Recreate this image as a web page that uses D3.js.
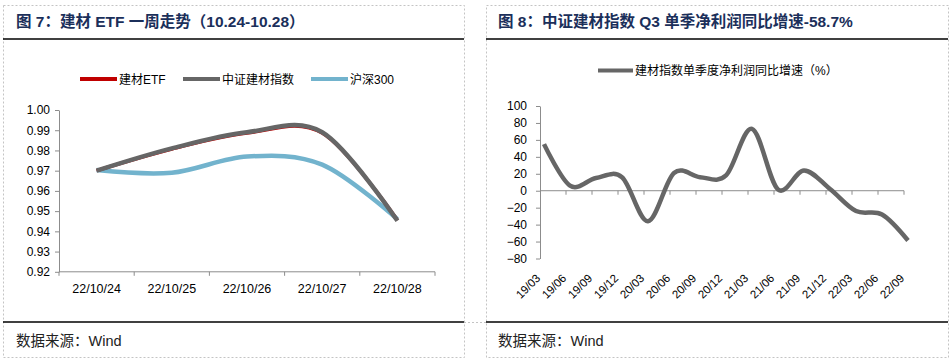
<!DOCTYPE html>
<html>
<head>
    <meta charset="UTF-8" />
    <title>建材 ETF / 中证建材指数</title>
    <script src="https://d3js.org/d3.v7.min.js"></script>
    <style>
body { margin: 0; background: #fff; }
svg { font-family: "Liberation Sans", Arial, "Noto Sans CJK SC", sans-serif; }
.axis path, .axis line { stroke: #8c8c8c; }
.axis text { fill: #000; }
    </style>
</head>

<body>
<div id="main"></div>
<script type="text/javascript">

// ---- data: chart 7 (weekly trend) ----
const weekDates = ['22/10/24', '22/10/25', '22/10/26', '22/10/27', '22/10/28']
const etfValues = [0.970, 0.9807, 0.9886, 0.9886, 0.9455]
const indexValues = [0.970, 0.981, 0.989, 0.989, 0.9452]
const hs300Values = [0.9703, 0.969, 0.977, 0.973, 0.946]
const weekTicks = [0.92, 0.93, 0.94, 0.95, 0.96, 0.97, 0.98, 0.99, 1.00]

// ---- data: chart 8 (quarterly profit growth, %) ----
const quarters = ['19/03', '19/06', '19/09', '19/12', '20/03', '20/06', '20/09', '20/12',
  '21/03', '21/06', '21/09', '21/12', '22/03', '22/06', '22/09']
const profitGrowth = [55, 6, 15, 16, -36, 21, 16, 18, 73, 1.5, 24, 2, -24, -28, -58.7]
const growthTicks = [-80, -60, -40, -20, 0, 20, 40, 60, 80, 100]

const width = 951
const height = 362
const titleColor = '#1b2f5a'
const smooth = d3.curveCardinal.tension(0)

const svg = d3.select('#main').append('svg')
  .attr('width', width)
  .attr('height', height)

// frames: dashed boxes, title rule, source rule
function frame(x0, x1, title, titleX) {
  svg.append('rect')
    .attr('x', x0 + 0.5).attr('y', 5.5)
    .attr('width', x1 - x0).attr('height', 352)
    .attr('fill', 'none').attr('stroke', '#c4c4c4')
    .attr('stroke-dasharray', '2,2')
  svg.append('line')
    .attr('x1', x0).attr('x2', x1).attr('y1', 39).attr('y2', 39)
    .attr('stroke', '#000').attr('stroke-width', 1.5)
  svg.append('line')
    .attr('x1', x0).attr('x2', x1).attr('y1', 322).attr('y2', 322)
    .attr('stroke', '#000').attr('stroke-width', 1.5)
  svg.append('text')
    .attr('x', titleX).attr('y', 27)
    .attr('fill', titleColor)
    .style('font-size', '15.5px').style('font-weight', 'bold')
    .text(title)
  svg.append('text')
    .attr('x', titleX).attr('y', 346)
    .attr('fill', '#222')
    .style('font-size', '14.5px')
    .text('数据来源：Wind')
}

frame(3, 464, '图 7：建材 ETF 一周走势（10.24-10.28）', 16)
frame(486, 948, '图 8：中证建材指数 Q3 单季净利润同比增速-58.7%', 498)

svg.append('line')
  .attr('x1', 464).attr('x2', 486).attr('y1', 322.5).attr('y2', 322.5)
  .attr('stroke', '#c4c4c4').attr('stroke-dasharray', '2,2')

// ================= chart 7 =================
const x7 = d3.scaleBand()
  .domain(weekDates)
  .range([59, 435])

const y7 = d3.scaleLinear()
  .domain([0.92, 1.00])
  .range([271.8, 110])

const g7 = svg.append('g')

g7.append('g')
  .attr('class', 'axis')
  .attr('transform', 'translate(59,0)')
  .call(d3.axisLeft(y7).tickValues(weekTicks).tickFormat(d3.format('.2f')).tickSize(4).tickSizeOuter(0))
  .call(g => g.selectAll('text').style('font-size', '12px').attr('x', -9))

// category axis with ticks on band edges
const xAxis7 = g7.append('g').attr('class', 'axis')
xAxis7.append('line')
  .attr('x1', 59).attr('x2', 435)
  .attr('y1', y7(0.92)).attr('y2', y7(0.92))
xAxis7.selectAll('.edge').data(weekDates.concat(['end'])).enter().append('line')
  .attr('class', 'edge')
  .attr('x1', (d, i) => i < weekDates.length ? x7(d) : x7.range()[1])
  .attr('x2', (d, i) => i < weekDates.length ? x7(d) : x7.range()[1])
  .attr('y1', y7(0.92)).attr('y2', y7(0.92) + 4)
xAxis7.selectAll('text').data(weekDates).enter().append('text')
  .attr('x', d => x7(d) + x7.bandwidth() / 2)
  .attr('y', 293)
  .attr('text-anchor', 'middle')
  .style('font-size', '12.5px')
  .text(d => d)

const line7 = values => d3.line()
  .x((d, i) => x7(weekDates[i]) + x7.bandwidth() / 2)
  .y(d => y7(d))
  .curve(smooth)(values)

const series7 = [
  { name: '建材ETF', values: etfValues, color: '#c00000', w: 3.5 },
  { name: '中证建材指数', values: indexValues, color: '#666666', w: 4.5 },
  { name: '沪深300', values: hs300Values, color: '#72b3cd', w: 4.5 }
]

// blue first, then red, then gray over red
;[2, 0, 1].forEach(i => {
  const s = series7[i]
  g7.append('path').attr('d', line7(s.values))
    .attr('fill', 'none').attr('stroke', s.color).attr('stroke-width', s.w)
})

// legend
const legend7X = [80, 183, 311]
series7.forEach((s, i) => {
  svg.append('line')
    .attr('x1', legend7X[i]).attr('x2', legend7X[i] + 37)
    .attr('y1', 79).attr('y2', 79)
    .attr('stroke', s.color).attr('stroke-width', 4)
  svg.append('text')
    .attr('x', legend7X[i] + 39).attr('y', 83.5)
    .style('font-size', '12px')
    .text(s.name)
})

// ================= chart 8 =================
const x8 = d3.scalePoint()
  .domain(quarters)
  .range([544, 908])

const y8 = d3.scaleLinear()
  .domain([-80, 100])
  .range([258.5, 106])

const g8 = svg.append('g')

g8.append('g')
  .attr('class', 'axis')
  .attr('transform', 'translate(540,0)')
  .call(d3.axisLeft(y8).tickValues(growthTicks).tickSize(4).tickSizeOuter(0))
  .call(g => g.selectAll('text').style('font-size', '12px').attr('x', -13))

const xAxis8 = g8.append('g').attr('class', 'axis')
xAxis8.append('line')
  .attr('x1', 540).attr('x2', x8(quarters[quarters.length - 1]) - 4)
  .attr('y1', y8(0)).attr('y2', y8(0))
xAxis8.selectAll('.edge').data(quarters.slice(1)).enter().append('line')
  .attr('class', 'edge')
  .attr('x1', d => x8(d) - 4).attr('x2', d => x8(d) - 4)
  .attr('y1', y8(0)).attr('y2', y8(0) + 4)
xAxis8.selectAll('text').data(quarters).enter().append('text')
  .attr('text-anchor', 'end')
  .attr('transform', d => `translate(${x8(d) - 3},${279}) rotate(-45)`)
  .style('font-size', '11.5px')
  .text(d => d)

g8.append('path')
  .attr('d', d3.line()
    .x((d, i) => x8(quarters[i]))
    .y(d => y8(d))
    .curve(smooth)(profitGrowth))
  .attr('fill', 'none')
  .attr('stroke', '#666666')
  .attr('stroke-width', 4.5)

svg.append('line')
  .attr('x1', 598).attr('x2', 633)
  .attr('y1', 70.5).attr('y2', 70.5)
  .attr('stroke', '#666666').attr('stroke-width', 4)
svg.append('text')
  .attr('x', 635).attr('y', 75)
  .style('font-size', '12px')
  .text('建材指数单季度净利润同比增速（%）')

</script>
</body>
</html>
